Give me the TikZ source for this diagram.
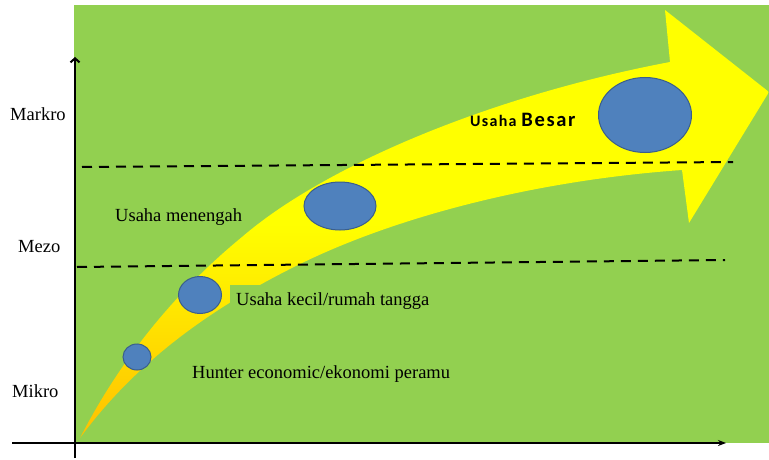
\documentclass[tikz,border=0pt]{standalone}
\usepackage{fontspec}
\setmainfont{Liberation Serif}
\newfontfamily\besarfont{Carlito}[LetterSpace=8]
\usetikzlibrary{shapes.geometric,arrows.meta}
\definecolor{bggreen}{HTML}{92D050}
\definecolor{arrowyellow}{HTML}{FFFF00}
\definecolor{arrowgold}{HTML}{FFC000}
\definecolor{dotblue}{HTML}{4F81BD}
\definecolor{dotedge}{HTML}{3A5E8C}
\begin{document}
\begin{tikzpicture}[x=1pt,y=-1pt,
  lbl/.style={anchor=base west, inner sep=0pt, font=\fontsize{18.5}{22}\selectfont},
  dot/.style={ellipse, draw=dotedge, line width=1pt, fill=dotblue, inner sep=0pt},
  levelline/.style={dash pattern=on 10pt off 7pt, line width=2pt},
]
\useasboundingbox (0,0) rectangle (769,460);
\fill[white] (0,0) rectangle (769,460);
\fill[bggreen] (74,5) rectangle (769,443);
% curved growth arrow
\shade[top color=arrowyellow, bottom color=arrowgold, middle color=arrowyellow]
  (80,438) .. controls (120,360) and (175,292) .. (242,237)
  .. controls (322,168) and (485,97) .. (670,62)
  -- (665,10) -- (769,92) -- (689,223) -- (682,170)
  .. controls (540,180) and (400,215) .. (300,264)
  .. controls (200,313) and (130,370) .. (80,438)
  -- cycle;
% text box covering part of the arrow
\fill[bggreen] (230,285) rectangle (440,326);
% level lines
\coordinate (m1a) at (82,167);
\coordinate (m1b) at (733,162);
\coordinate (m2a) at (77,267);
\coordinate (m2b) at (725,260);
\draw[levelline] (m1a) -- (m1b);
\draw[levelline] (m2a) -- (m2b);
% axes
\coordinate (yb) at (75,458);
\coordinate (yt) at (75,57);
\coordinate (xl) at (12,443);
\coordinate (xr) at (726,443);
\draw[line width=2pt, -{Straight Barb[length=4pt,width=9pt]}] (yb) -- (yt);
\draw[line width=1.5pt, -{Stealth[length=8pt,width=6pt]}] (xl) -- (xr);
% stages
\node[dot, minimum width=28pt, minimum height=26pt] (e1) at (137,357) {};
\node[dot, minimum width=43pt, minimum height=37pt] (e2) at (200,295) {};
\node[dot, minimum width=72pt, minimum height=48pt] (e3) at (340,206) {};
\node[dot, minimum width=93pt, minimum height=75pt] (e4) at (645,115) {};
% labels
\node[lbl] (markro) at (10,121) {Markro};
\node[lbl] (mezo) at (18,252) {Mezo};
\node[lbl] (mikro) at (12,397) {Mikro};
\node[lbl] (menengah) at (115,221) {Usaha menengah};
\node[lbl] (kecil) at (236,305) {Usaha kecil/rumah tangga};
\node[lbl] (hunter) at (192,378) {Hunter economic/ekonomi peramu};
\node[anchor=base west, inner sep=0pt] (besar) at (470,127)
  {\besarfont\bfseries\fontsize{16}{18}\selectfont Usaha \fontsize{20.5}{24}\selectfont Besar};
\end{tikzpicture}
\end{document}
